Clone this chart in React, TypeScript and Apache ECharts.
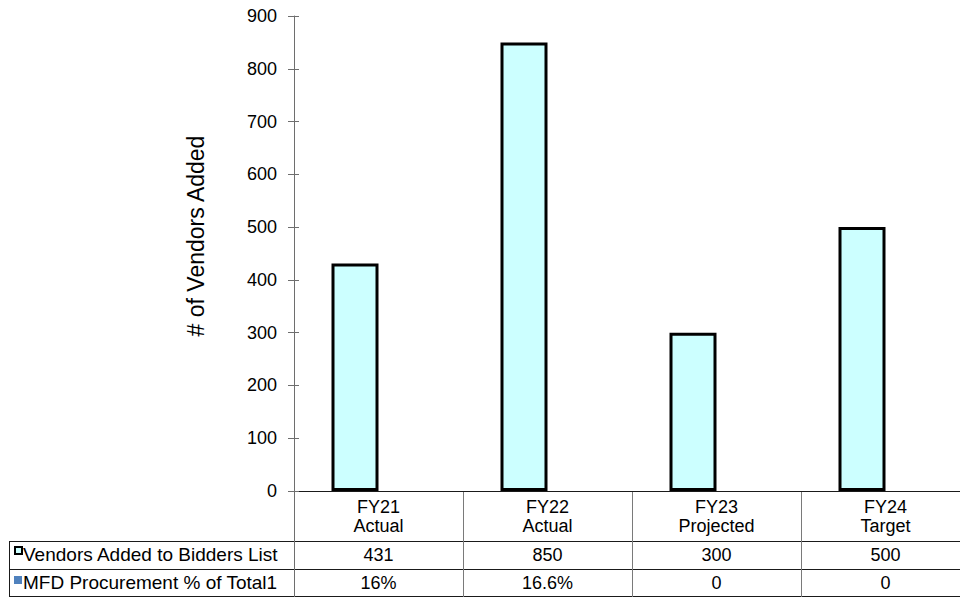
import React, { useEffect, useRef } from "react";
import * as echarts from "echarts";

// Fiscal years and their status, shown as two-line category labels
const fiscalYears = ["FY21", "FY22", "FY23", "FY24"];
const stages = ["Actual", "Actual", "Projected", "Target"];

// Series values
const vendorsSeriesName = "Vendors Added to Bidders List";
const vendorsAdded = [431, 850, 300, 500];
const mfdSeriesName = "MFD Procurement % of Total1";
const mfdShare = [0.16, 0.166, 0, 0];

// Value axis
const yMin = 0;
const yMax = 900;
const yInterval = 100;
const yAxisTitle = "# of Vendors Added";

const FONT = "'Liberation Sans', Arial, Helvetica, sans-serif";
const VENDOR_FILL = "#CCFFFF";
const MFD_FILL = "#4F81BD";

// The drawing surface is wider than the visible frame, so the last
// category column runs off the right edge.
const VIEW_WIDTH = 960;
const VIEW_HEIGHT = 597;
const CANVAS_WIDTH = 990;
const GRID_LEFT = 294;
const GRID_TOP = 16;
const GRID_WIDTH = 676;
const GRID_HEIGHT = 475;

const formatShare = (v: number) =>
  v === 0 ? "0" : `${parseFloat((v * 100).toFixed(1))}%`;

export default function App() {
  const ref = useRef<HTMLDivElement>(null);

  useEffect(() => {
    if (!ref.current) return;
    const chart = echarts.init(ref.current, null, { renderer: "svg" });

    const categories = fiscalYears.map((fy, i) => `${fy}\n${stages[i]}`);
    const n = categories.length;
    const catW = GRID_WIDTH / n;
    const axisY = GRID_TOP + GRID_HEIGHT;
    const row1Top = 541;
    const row2Top = 569;
    const tableBottom = 596;
    const tableLeft = 9;
    const right = GRID_LEFT + GRID_WIDTH;

    const hLine = (y: number, x1: number, x2: number, color: string) => ({
      type: "line",
      shape: { x1, y1: y + 0.5, x2, y2: y + 0.5 },
      style: { stroke: color, lineWidth: 1 },
      silent: true,
    });
    const vLine = (x: number, y1: number, y2: number, color: string) => ({
      type: "line",
      shape: { x1: x + 0.5, y1, x2: x + 0.5, y2 },
      style: { stroke: color, lineWidth: 1 },
      silent: true,
    });
    const cellText = (text: string, x: number, y: number, align: string, size = 18) => ({
      type: "text",
      x,
      y,
      style: {
        text,
        fill: "#000",
        font: `${size}px ${FONT}`,
        align,
        verticalAlign: "middle",
      },
      silent: true,
    });

    const graphics: any[] = [];
    // table grid
    graphics.push(hLine(row1Top, tableLeft, right, "#1a1a1a"));
    graphics.push(hLine(row2Top, tableLeft, right, "#1a1a1a"));
    graphics.push(hLine(tableBottom, tableLeft, right, "#1a1a1a"));
    graphics.push(vLine(tableLeft, row1Top, tableBottom + 1, "#1a1a1a"));
    graphics.push(vLine(GRID_LEFT, axisY, tableBottom + 1, "#6e6e6e"));
    for (let i = 1; i < n; i++) {
      graphics.push(vLine(Math.round(GRID_LEFT + i * catW), axisY, tableBottom + 1, "#7a7a7a"));
    }
    // row headers with legend keys
    graphics.push({
      type: "rect",
      shape: { x: 15, y: 547, width: 7, height: 7 },
      style: { fill: VENDOR_FILL, stroke: "#000", lineWidth: 2 },
      silent: true,
    });
    graphics.push({
      type: "rect",
      shape: { x: 14, y: 576, width: 8, height: 8 },
      style: { fill: MFD_FILL },
      silent: true,
    });
    graphics.push(cellText(vendorsSeriesName, 23, 554, "left", 19));
    graphics.push(cellText(mfdSeriesName, 23, 582, "left", 19));
    // values
    for (let i = 0; i < n; i++) {
      const cx = GRID_LEFT + (i + 0.5) * catW;
      graphics.push(cellText(String(vendorsAdded[i]), cx, 555, "center"));
      graphics.push(cellText(formatShare(mfdShare[i]), cx, 583, "center"));
    }
    // value axis title
    graphics.push({
      type: "text",
      x: 196,
      y: 236,
      rotation: Math.PI / 2,
      style: {
        text: yAxisTitle,
        fill: "#000",
        font: `23px ${FONT}`,
        align: "center",
        verticalAlign: "middle",
      },
      silent: true,
    });

    chart.setOption({
      animation: false,
      backgroundColor: "#fff",
      textStyle: { fontFamily: FONT },
      grid: {
        left: GRID_LEFT,
        top: GRID_TOP,
        width: GRID_WIDTH,
        height: GRID_HEIGHT,
        containLabel: false,
      },
      xAxis: {
        type: "category",
        data: categories,
        axisLine: { show: true, lineStyle: { color: "#1a1a1a", width: 1 } },
        axisTick: { show: false },
        axisLabel: {
          color: "#000",
          fontSize: 18,
          lineHeight: 19,
          margin: 6,
          interval: 0,
          fontFamily: FONT,
        },
      },
      yAxis: [
        {
          type: "value",
          min: yMin,
          max: yMax,
          interval: yInterval,
          axisLine: { show: true, lineStyle: { color: "#6e6e6e", width: 1 } },
          axisTick: { show: true, inside: false, length: 6, lineStyle: { color: "#6e6e6e" } },
          splitLine: { show: false },
          axisLabel: { color: "#000", fontSize: 18, margin: 17, fontFamily: FONT },
        },
        {
          // inner half of the crossing tick marks
          type: "value",
          position: "left",
          min: yMin,
          max: yMax,
          interval: yInterval,
          axisLine: { show: false },
          axisTick: { show: true, inside: true, length: 5, lineStyle: { color: "#6e6e6e" } },
          splitLine: { show: false },
          axisLabel: { show: false },
        },
      ],
      series: [
        {
          name: vendorsSeriesName,
          type: "bar",
          data: vendorsAdded,
          barWidth: 47,
          barGap: "0%",
          itemStyle: { color: VENDOR_FILL, borderColor: "#000", borderWidth: 3 },
        },
        {
          name: mfdSeriesName,
          type: "bar",
          data: mfdShare,
          barWidth: 47,
          barGap: "0%",
          itemStyle: { color: MFD_FILL },
        },
      ],
      graphic: graphics,
    });

    return () => chart.dispose();
  }, []);

  return (
    <div
      style={{
        position: "fixed",
        left: 0,
        top: 0,
        width: VIEW_WIDTH,
        height: VIEW_HEIGHT,
        overflow: "hidden",
        background: "#fff",
      }}
    >
      <div ref={ref} style={{ width: CANVAS_WIDTH, height: VIEW_HEIGHT }} />
    </div>
  );
}
